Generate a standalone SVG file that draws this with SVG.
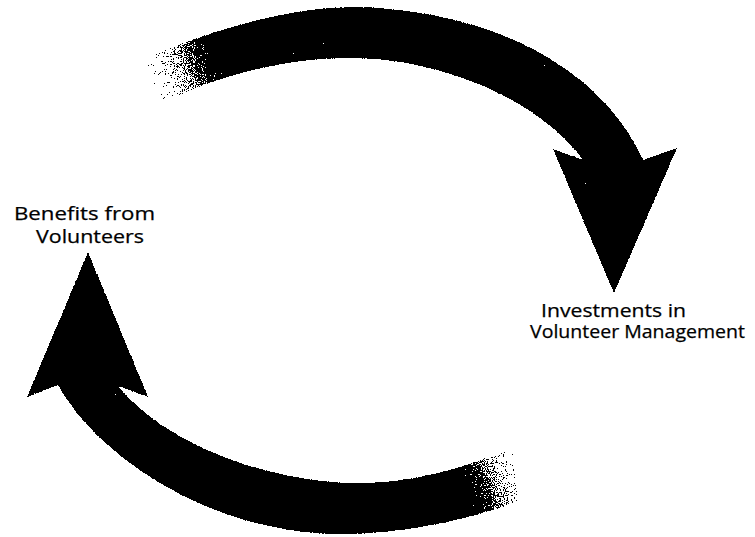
<svg xmlns="http://www.w3.org/2000/svg" width="755" height="537" viewBox="0 0 755 537">
  <style>
    .lbl { font-family: "Open Sans", "Noto Sans", "Liberation Sans", sans-serif; font-size: 19px; fill: #000; stroke: #000; stroke-width: 0.25px; }
  </style>
  <defs>
    <linearGradient id="fadeTop" gradientUnits="userSpaceOnUse" x1="143" y1="90" x2="222" y2="58">
      <stop offset="0" stop-color="#000" stop-opacity="0"/>
      <stop offset="0.55" stop-color="#000" stop-opacity="0.45"/>
      <stop offset="1" stop-color="#000" stop-opacity="1"/>
    </linearGradient>
    <linearGradient id="fadeBottom" gradientUnits="userSpaceOnUse" x1="530" y1="460" x2="462" y2="485">
      <stop offset="0" stop-color="#000" stop-opacity="0"/>
      <stop offset="0.55" stop-color="#000" stop-opacity="0.45"/>
      <stop offset="1" stop-color="#000" stop-opacity="1"/>
    </linearGradient>
    <filter id="spray" x="-5%" y="-5%" width="110%" height="110%">
      <feTurbulence type="fractalNoise" baseFrequency="0.9" numOctaves="1" seed="4" result="noise"/>
      <feColorMatrix in="noise" type="matrix" values="0 0 0 0 0  0 0 0 0 0  0 0 0 0 0  1 0 0 0 0" result="na"/>
      <feComposite in="SourceGraphic" in2="na" operator="arithmetic" k1="0" k2="1" k3="1.6" k4="-0.8" result="c"/>
      <feComponentTransfer in="c" result="d">
        <feFuncA type="discrete" tableValues="0 1"/>
      </feComponentTransfer>
      <feComponentTransfer in="SourceAlpha" result="m">
        <feFuncA type="discrete" tableValues="0 1 1 1 1 1 1 1 1 1 1 1 1 1 1 1 1 1 1 1 1 1 1 1 1"/>
      </feComponentTransfer>
      <feComposite in="d" in2="m" operator="in"/>
    </filter>
  </defs>

  <g id="connectors">
    <path id="arrow-top" fill="url(#fadeTop)" filter="url(#spray)"
      d="M 146,58 C 200,35 280,8 350,7 C 470,8 595,55 643,160 L 677,148 L 614,293 L 553,149 L 583,160 C 540,100 440,58 350,58 C 280,58 210,78 158,106 Z"/>
    <path id="arrow-bottom" fill="url(#fadeBottom)" filter="url(#spray)"
      d="M 518,502 C 460,522 400,534 340,534 C 215,534 100,460 58,385 L 27,397 L 88,252 L 148,397 L 118,386 C 170,450 280,483 357,483 C 410,483 460,470 514,447 Z"/>
  </g>

  <g id="node-benefits">
    <text class="lbl" x="14" y="220" textLength="141" lengthAdjust="spacingAndGlyphs">Benefits from</text>
    <text class="lbl" x="36" y="243" textLength="108" lengthAdjust="spacingAndGlyphs">Volunteers</text>
  </g>

  <g id="node-investments">
    <text class="lbl" x="541" y="317" textLength="145" lengthAdjust="spacingAndGlyphs">Investments in</text>
    <text class="lbl" x="530" y="338" textLength="215" lengthAdjust="spacingAndGlyphs">Volunteer Management</text>
  </g>
</svg>
